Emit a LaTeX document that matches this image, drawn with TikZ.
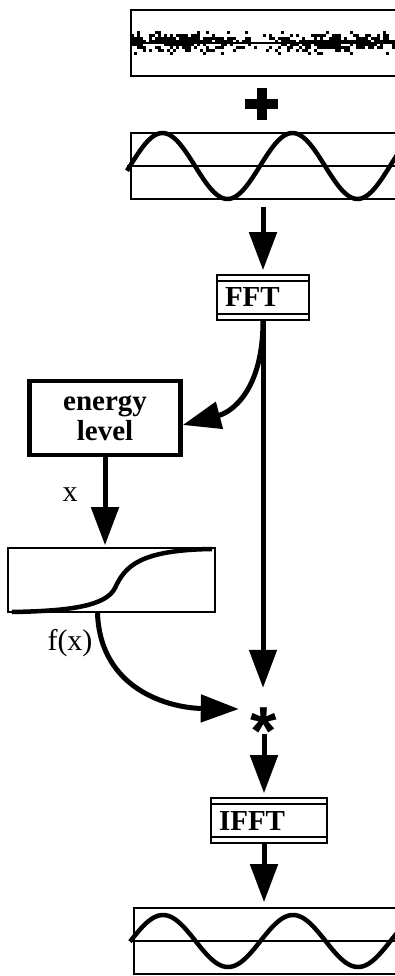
\documentclass[tikz,border=0pt]{standalone}
\usepackage{fontspec}
\setmainfont{Liberation Serif}
\newfontfamily\symfont{Liberation Sans}
\usetikzlibrary{
  arrows.meta,
  calc,
  positioning
}
\tikzset{
  >={Triangle[length=38pt, width=27pt]},
  box/.style={
    draw,
    line width=1.6pt,
    inner sep=0pt
  },
  wavebox/.style={
    box,
    minimum height=66pt
  },
  levelbox/.style={
    draw,
    line width=4.5pt,
    align=center,
    inner sep=0pt,
    font=\fontsize{29}{30}\selectfont\bfseries,
    minimum width=151pt,
    minimum height=74pt
  },
  fftbox/.style={
    box,
    inner xsep=8pt,
    align=left,
    minimum height=45pt,
    font=\fontsize{29}{30}\selectfont\bfseries,
    path picture={
      \draw[line width=1.6pt]
        ([yshift=-6pt]path picture bounding box.north west) --
        ([yshift=-6pt]path picture bounding box.north east)
        ([yshift=6pt]path picture bounding box.south west) --
        ([yshift=6pt]path picture bounding box.south east);
    }
  },
  starnode/.style={
    inner sep=0pt,
    minimum width=50pt,
    minimum height=46pt,
    font=\symfont\bfseries\fontsize{68}{68}\selectfont
  },
  arrow/.style={
    ->,
    line width=5pt
  },
  wave/.style={
    line width=4.5pt
  },
  axis/.style={
    line width=1.6pt
  },
  lbl/.style={
    inner sep=0pt,
    font=\fontsize{30}{32}\selectfont
  }
}

\begin{document}
\begin{tikzpicture}[x=1pt, y=-1pt]
\path[use as bounding box] (0,0) rectangle (395,976);
\clip (0,0) rectangle (395,976);

% Input signal: noise plus sine.
\node[wavebox, minimum width=274pt] (noise) at (268,43) {};
\node[wavebox, minimum width=274pt] (sig) at (268,166) {};

\draw[axis] (130,43) -- (400,43);
\pgfmathsetseed{7}
\foreach \c in {0,...,88}{
  \foreach \r in {-4,...,3}{
    \pgfmathsetmacro\px{131+3*\c}
    \pgfmathsetmacro\p{(\r<0 ? 0.95 : 0.65)*exp(-((\r+0.5)/2.8)^2)*(1-0.75*exp(-((\px-258)/26)^2))}
    \pgfmathtruncatemacro\hit{rnd<\p}
    \ifnum\hit=1 \fill (\px,43+3*\r) rectangle ++(3,3); \fi
  }
}

\draw[line width=10pt] (245,104) -- (278,104) (261.5,88) -- (261.5,120);

\draw[axis] (127,166) -- (400,166);
\draw[wave] plot[domain=127:400, samples=120] (\x, {166-33*sin((\x-130)/130*360)});

% Spectrum.
\node[fftbox, text width=76pt] (fft) at (263,297.5) {FFT};

\draw[arrow, shorten <=7pt, shorten >=4pt] (sig.south -| fft.north) -- (fft.north);

% Gain branch.
\node[levelbox] (energy) at (105,418) {energy\\level};
\node[box, minimum width=207pt, minimum height=64pt] (sigm) at (111.5,580) {};
\draw[wave] (12,612) .. controls (70,611) and (106,606) .. (115,588)
  .. controls (125,566) and (140,550) .. (212,549);

\draw[arrow] (fft.south) .. controls (263,390) and (232,412) .. ([yshift=-7pt]energy.east);
\draw[arrow, shorten >=2pt] (energy.south) -- (energy.south |- sigm.north)
  node[lbl, pos=0.42, left=25pt] (xlabel) {x};

% Product.
\node[starnode] (star) at (264,711) {\raisebox{-.64em}[0pt][0pt]{*}};
\node[lbl] (fxlabel) at (70,643) {f(x)};

\draw[arrow] (fft.south) -- (fft.south |- star.north);
\draw[arrow] ([xshift=-14pt]sigm.south) .. controls (100,690) and (170,708) .. ([yshift=2pt]star.west);

% Back to time domain.
\node[fftbox, text width=100pt] (ifft) at (269,820.5) {IFFT};
\node[wavebox, minimum width=271pt] (out) at (269.5,941) {};

\draw[arrow, shorten >=4pt] (star.south) -- (star.south |- ifft.north);
\draw[arrow, shorten >=5pt] (ifft.south -| star.south) -- (out.north -| star.south);

\draw[axis] (130,941) -- (400,941);
\draw[wave] plot[domain=130:400, samples=120] (\x, {941-26*sin((\x-130.5)/130*360)});

\end{tikzpicture}
\end{document}
